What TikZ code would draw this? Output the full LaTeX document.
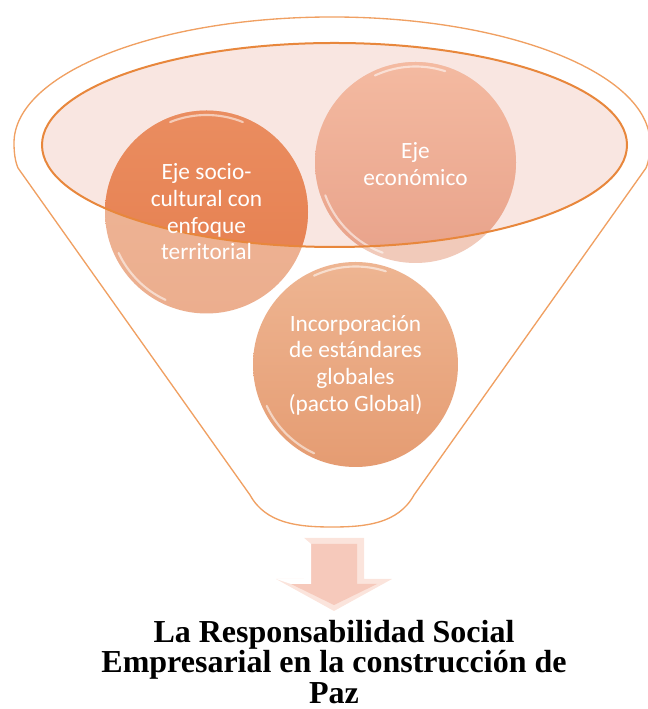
\documentclass[tikz,border=0pt]{standalone}
\usepackage{fontspec}
\setmainfont{Liberation Serif}
\newfontfamily\calib{Carlito}
\definecolor{rimline}{HTML}{F0A062}
\definecolor{ellline}{HTML}{E8873C}
\definecolor{ellfill}{HTML}{F9E6E1}
\definecolor{socioIn}{HTML}{EA8D60}
\definecolor{socioInB}{HTML}{E57D4D}
\definecolor{socioOut}{HTML}{EEB698}
\definecolor{socioOutB}{HTML}{ECAE8E}
\definecolor{ecoIn}{HTML}{F4BAA1}
\definecolor{ecoInB}{HTML}{E8A28A}
\definecolor{ecoOut}{HTML}{F1CABA}
\definecolor{incT}{HTML}{EEB592}
\definecolor{incB}{HTML}{E59C72}
\definecolor{arrowOut}{HTML}{FBE4DC}
\definecolor{arrowFace}{HTML}{F6C9BB}
\begin{document}
\begin{tikzpicture}[x=0.75pt,y=0.75pt,
  funnel/.style={draw=rimline, line width=1pt, fill=white},
  bubbletext/.style={circle, align=center, text=white, inner sep=0pt,
    font=\calib\fontsize{17.5}{20}\selectfont},
  gloss/.style={white, line width=1.6pt, opacity=0.55, line cap=round},
  titletext/.style={anchor=base, inner sep=0pt, font=\bfseries\fontsize{24}{26}\selectfont}]
\useasboundingbox (0,0) rectangle (648,709);

% funnel outline
\draw[funnel] (14,566) arc[start angle=180,end angle=0,x radius=318,y radius=126]
  .. controls (650,557) and (649,548) .. (646,541) -- (414,214)
  .. controls (398,185) and (365,182) .. (332,182)
  .. controls (299,182) and (266,185) .. (250,214) -- (18,541)
  .. controls (15,548) and (14,557) .. cycle;

% inner ellipse fill
\fill[ellfill] (334.5,564) ellipse[x radius=292.5, y radius=102];

% circles, outside parts
\shade[top color=socioOut, bottom color=socioOutB] (206.5,497) circle[radius=101.5];
\shade[top color=ecoOut, bottom color=ecoOut] (415.5,546.5) circle[radius=100.5];
\shade[top color=incT, bottom color=incB] (355.5,344.5) circle[radius=102.5];

% circles, parts inside the funnel mouth
\begin{scope}
  \clip (334.5,564) ellipse[x radius=292.5, y radius=102];
  \shade[top color=socioIn, bottom color=socioInB] (206.5,497) circle[radius=101.5];
  \shade[top color=ecoIn, bottom color=ecoInB] (415.5,546.5) circle[radius=100.5];
\end{scope}

% glossy highlights
\draw[gloss] (206.5,497) ++(112:97) arc[start angle=112, end angle=68, radius=97];
\draw[gloss] (206.5,497) ++(205:97) arc[start angle=205, end angle=245, radius=97];
\draw[gloss] (415.5,546.5) ++(115:96) arc[start angle=115, end angle=72, radius=96];
\draw[gloss] (415.5,546.5) ++(200:96) arc[start angle=200, end angle=250, radius=96];
\draw[gloss] (355.5,344.5) ++(115:98) arc[start angle=115, end angle=72, radius=98];
\draw[gloss] (355.5,344.5) ++(205:98) arc[start angle=205, end angle=245, radius=98];

% funnel mouth rim
\draw[ellline, line width=1.5pt] (334.5,564) ellipse[x radius=292.5, y radius=102];

% texts in the circles
\node[bubbletext, minimum size=152pt] (socio) at (206.5,497) {Eje socio-\\cultural con\\enfoque\\territorial};
\node[bubbletext, minimum size=150.5pt] (eco) at (415.5,545) {Eje\\económico};
\node[bubbletext, minimum size=153.5pt] (inc) at (355.5,344) {Incorporación\\de estándares\\globales\\(pacto Global)};

% block arrow
\fill[arrowOut] (304,171) -- (364,171) -- (364,130) -- (392,130) -- (334,98) -- (276,130) -- (304,130) -- cycle;
\fill[arrowFace] (311,165) -- (357,165) -- (357,125) -- (377,125) -- (334,104) -- (291,125) -- (311,125) -- cycle;
\fill[white] (304,171) -- (311,165) -- (311,125) -- (291,125) -- (276,130) -- (304,130) -- cycle;

% title
\node[titletext] (t1) at (334,66) {La Responsabilidad Social};
\node[titletext] (t2) at (334,36) {Empresarial en la construcción de};
\node[titletext] (t3) at (334,6) {Paz};
\end{tikzpicture}
\end{document}
